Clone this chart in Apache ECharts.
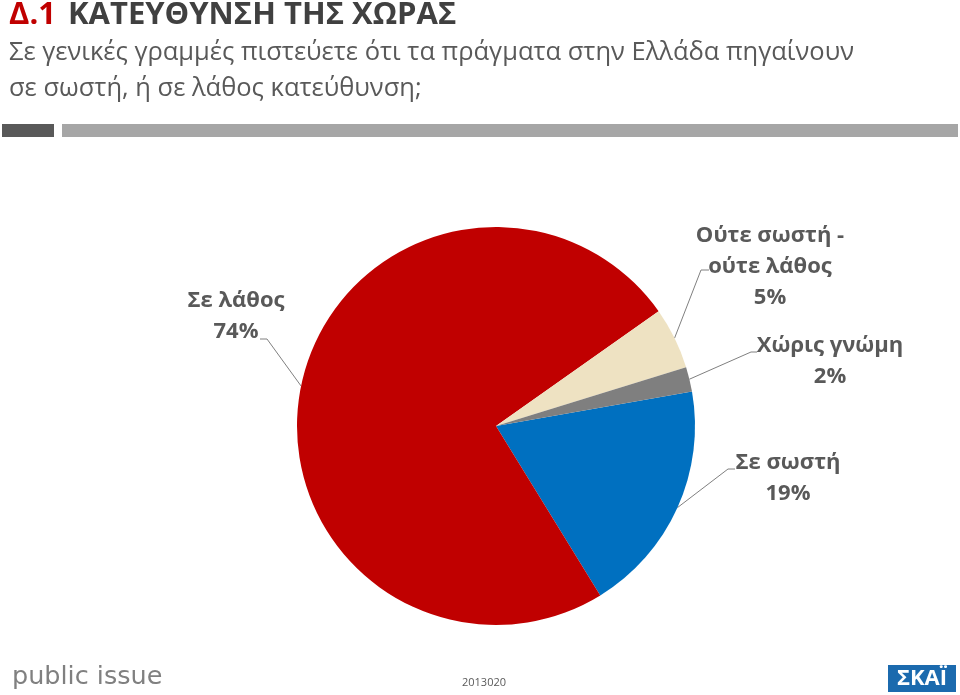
<!DOCTYPE html>
<html><head><meta charset="utf-8">
<script src="https://cdn.jsdelivr.net/npm/echarts@6/dist/echarts.min.js"></script>
<style>html,body{margin:0;padding:0;background:#fff}#c{width:960px;height:695px}</style>
</head><body><div id="c"></div>
<script>
const categories = ['Σε σωστή', 'Σε λάθος', 'Ούτε σωστή -\nούτε λάθος', 'Χώρις γνώμη'];
const values = [19, 74, 5, 2];
const colors = ['#0070c0', '#c00000', '#eee2c2', '#7f7f7f'];
const titleCode = 'Δ.1';
const titleText = 'ΚΑΤΕΥΘΥΝΣΗ ΤΗΣ ΧΩΡΑΣ';
const subtitleLines = ['Σε γενικές γραμμές πιστεύετε ότι τα πράγματα στην Ελλάδα πηγαίνουν', 'σε σωστή, ή σε λάθος κατεύθυνση;'];
const footerCode = '2013020';
const brandLeft = 'public issue';
const brandRight = 'ΣΚΑΪ';

// label placement (layout only)
const labelPlace = [
  {x: 788, y: 478, elbow: [728, 469], end: [735, 469]},
  {x: 236, y: 316, elbow: [267, 339], end: [260, 339]},
  {x: 770, y: 267, elbow: [701, 270], end: [709, 270]},
  {x: 830, y: 361, elbow: [751, 352], end: [757, 352]}
];

const FONT = '"Open Sans", "Noto Sans", sans-serif';
const chart = echarts.init(document.getElementById('c'), null, {renderer: 'canvas'});

const option = {
  backgroundColor: '#ffffff',
  animation: false,
  graphic: [
    {type: 'text', left: 9, top: 0, style: {
      text: '{a|' + titleCode + '}{b|' + titleText + '}',
      rich: {
        a: {fontFamily: FONT, fontWeight: 'bold', fontSize: 31, fill: '#c00000', padding: [0, 12, 0, 0]},
        b: {fontFamily: FONT, fontWeight: 'bold', fontSize: 31, fill: '#404040'}
      }
    }},
    {type: 'text', left: 9, top: 35, style: {
      text: subtitleLines.join('\n'), fontFamily: FONT, fontSize: 25.5, lineHeight: 36, fill: '#595959'
    }},
    {type: 'rect', shape: {x: 2, y: 124, width: 52, height: 13}, style: {fill: '#595959'}},
    {type: 'rect', shape: {x: 62, y: 124, width: 896, height: 13}, style: {fill: '#a6a6a6'}},
    {type: 'text', left: 12, top: 664, style: {
      text: brandLeft, fontFamily: '"DejaVu Sans", sans-serif', fontSize: 25.5, fill: '#808080'
    }},
    {type: 'text', x: 484, y: 683, style: {
      text: footerCode, fontFamily: FONT, fontSize: 11, fill: '#595959', align: 'center', verticalAlign: 'middle'
    }},
    {type: 'rect', shape: {x: 888, y: 665, width: 68, height: 27}, style: {fill: '#1b6aae'}},
    {type: 'text', x: 922, y: 679, style: {
      text: brandRight, fontFamily: FONT, fontWeight: 'bold', fontSize: 22, fill: '#ffffff', align: 'center', verticalAlign: 'middle'
    }}
  ],
  series: [{
    type: 'pie',
    center: [496, 426],
    radius: 199,
    startAngle: 10,
    clockwise: true,
    color: colors,
    data: categories.map((n, i) => ({name: n, value: values[i]})),
    label: {
      show: true,
      position: 'outside',
      formatter: '{b}\n{c}%',
      fontFamily: FONT,
      fontWeight: 'bold',
      fontSize: 22,
      lineHeight: 31,
      color: '#595959',
      align: 'center'
    },
    labelLine: {show: true, lineStyle: {color: '#808080', width: 1}},
    labelLayout: function (params) {
      const p = labelPlace[params.dataIndex];
      const start = params.labelLinePoints ? params.labelLinePoints[0] : p.elbow;
      return {
        x: p.x, y: p.y, align: 'center', verticalAlign: 'middle',
        labelLinePoints: [start, p.elbow, p.end]
      };
    },
    emphasis: {disabled: true}
  }]
};
chart.setOption(option);
</script></body></html>
